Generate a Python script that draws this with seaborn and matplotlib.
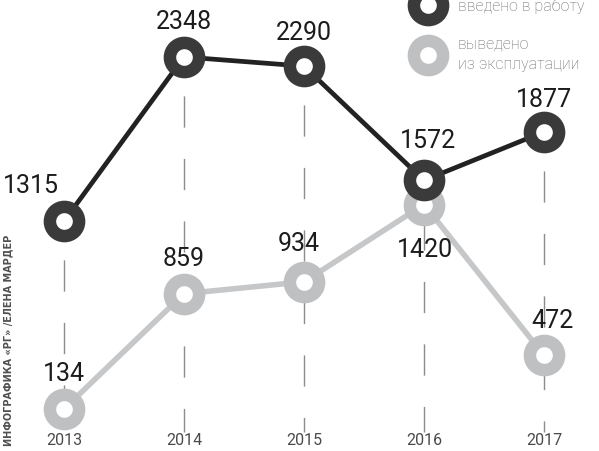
import numpy as np
import pandas as pd
import matplotlib
matplotlib.use("Agg")
import matplotlib.pyplot as plt
import seaborn as sns

# данные
years = [2013, 2014, 2015, 2016, 2017]
vvedeno = [1315, 2348, 2290, 1572, 1877]
vyvedeno = [134, 859, 934, 1420, 472]
year_labels = ["2013", "2014", "2015", "2016", "2017"]

# сдвиги подписей (в точках)
off_in = [(-24, 25), (0, 25), (0, 24), (3, 28), (0, 23)]
off_out = [(0, 25), (0, 25), (-4, 27), (1, -33), (6, 25)]

sns.set_theme(style="white")
plt.rcParams["font.family"] = ["Roboto", "DejaVu Sans"]
plt.rcParams["lines.scale_dashes"] = False

DARK = "#3a3a3a"
DARK_LINE = "#222222"
LIGHT = "#bfc0c2"
LIGHT_LINE = "#c6c7c9"
GRID = "#8c8c8c"

df = pd.DataFrame({"year": years, "in": vvedeno, "out": vyvedeno})

fig = plt.figure(figsize=(5.99, 4.51), dpi=100)
ax = fig.add_axes([0, 0, 1, 1])

# пунктирные вертикали: от верхней точки вниз
for x, top in zip(years, vvedeno):
    ax.plot([x, x], [top, -12], color=GRID, linewidth=1.0,
            linestyle=(17, (22.5, 22.5)), zorder=0)

ms, mew = 21, 9
sns.lineplot(data=df, x="year", y="out", ax=ax, color=LIGHT_LINE, linewidth=4,
             marker="o", markersize=ms, markeredgewidth=mew,
             markerfacecolor="white", markeredgecolor=LIGHT, zorder=2)
sns.lineplot(data=df, x="year", y="in", ax=ax, color=DARK_LINE, linewidth=3.4,
             marker="o", markersize=ms, markeredgewidth=mew,
             markerfacecolor="white", markeredgecolor=DARK, zorder=3)
ax.axis("off")
ax.set_xlim(2012.467, 2017.458)
ax.set_ylim(-130, 2706)

for x, v, o in zip(years, vvedeno, off_in):
    ax.annotate(str(v), (x, v), xytext=o, textcoords="offset points",
                ha="center", va="center", fontsize=18, color="#1c1c1c", zorder=5)
for x, v, o in zip(years, vyvedeno, off_out):
    ax.annotate(str(v), (x, v), xytext=o, textcoords="offset points",
                ha="center", va="center", fontsize=18, color="#1c1c1c", zorder=5)

# подписи годов
for x, lab in zip(years, year_labels):
    ax.text(x, -67, lab, ha="center", va="center", fontsize=11.5, color="#4a4a4a")

# легенда
ax.plot([428 / 599], [1 - 5 / 451], transform=ax.transAxes, marker="o",
        markersize=ms, markeredgewidth=mew, markerfacecolor="white",
        markeredgecolor=DARK, clip_on=False)
ax.plot([428 / 599], [1 - 55 / 451], transform=ax.transAxes, marker="o",
        markersize=ms, markeredgewidth=mew, markerfacecolor="white",
        markeredgecolor=LIGHT, clip_on=False)
ax.text(458 / 599, 1 - 6 / 451, "введено в работу", transform=ax.transAxes,
        ha="left", va="center", fontsize=11.5, color="#6b6b6b", fontweight="light")
ax.text(458 / 599, 1 - 54 / 451, "выведено\nиз эксплуатации", transform=ax.transAxes,
        ha="left", va="center", fontsize=11.5, color="#6b6b6b", fontweight="light",
        linespacing=1.45)

# автор
fig.text(8 / 599, 1 - 340 / 451, "ИНФОГРАФИКА «РГ» /ЕЛЕНА МАРДЕР", rotation=90,
         ha="center", va="center", fontsize=7, color="#505050", fontweight="semibold",
         family=["DejaVu Sans"])

fig.savefig("out.png", dpi=100)
